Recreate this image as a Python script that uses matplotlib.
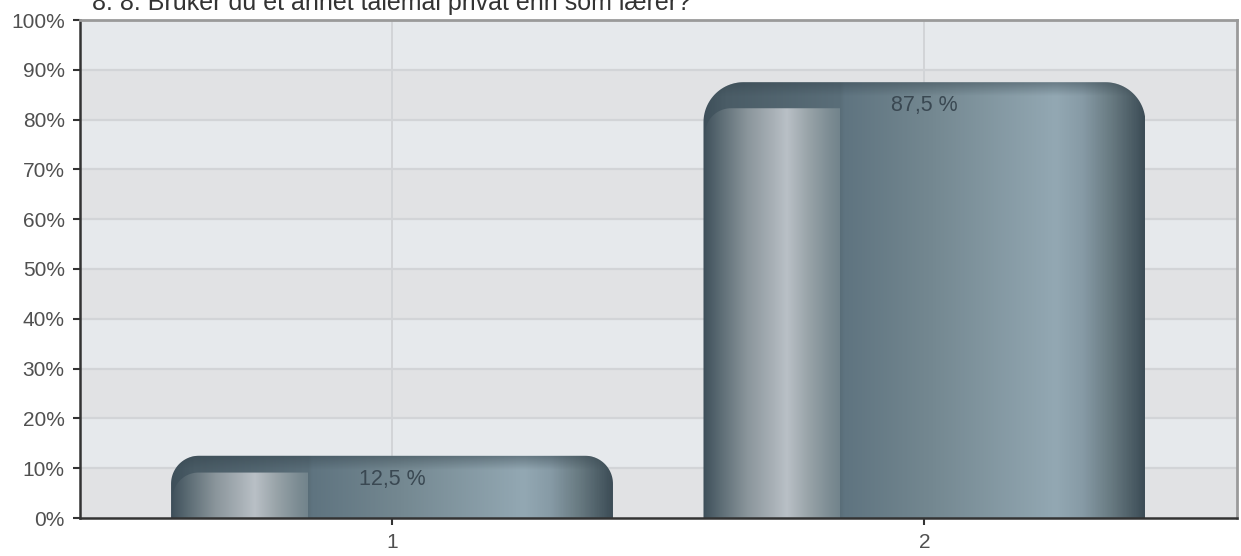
import numpy as np
import matplotlib
matplotlib.use("Agg")
import matplotlib.pyplot as plt
from matplotlib.path import Path
from matplotlib.patches import PathPatch
from matplotlib.colors import LinearSegmentedColormap, to_rgba

plt.rcParams['font.family'] = ['Liberation Sans', 'DejaVu Sans']

# ---- data ----
title = "8. 8. Bruker du et annet talemål privat enn som lærer?"
categories = ["1", "2"]
values = [12.5, 87.5]
y_ticks = [0, 10, 20, 30, 40, 50, 60, 70, 80, 90, 100]
y_tick_labels = [f"{t}%" for t in y_ticks]

# ---- styling ----
band_light = "#e6e9ec"
band_dark = "#e1e2e4"
grid_color = "#d2d4d7"
label_color = "#3a4852"
tick_color = "#505050"

# horizontal metal gradient across the whole bar
base_stops = [
    (0.00, "#3e4f5a"), (0.05, "#4a5c66"), (0.31, "#5a6e79"),
    (0.32, "#5f7480"), (0.52, "#748891"), (0.80, "#93a8b3"),
    (0.86, "#879ba6"), (0.93, "#66787f"), (1.00, "#3d4d57"),
]
# lighter inset panel on the left part of the bar
panel_stops = [
    (0.00, "#3e4f5a"), (0.04, "#5d6d75"), (0.10, "#8a959b"),
    (0.16, "#a9b1b7"), (0.19, "#b9c0c6"), (0.24, "#98a3a8"),
    (0.29, "#7b8b92"), (0.31, "#72848c"),
]
PANEL_END = 0.31

base_cmap = LinearSegmentedColormap.from_list("base", base_stops)
panel_cmap = LinearSegmentedColormap.from_list(
    "panel", [(p / PANEL_END, c) for p, c in panel_stops])

W, H = 1241, 556
fig = plt.figure(figsize=(W / 100, H / 100), dpi=100)
ax = fig.add_axes([80 / W, (H - 518) / H, 1157 / W, 498 / H])

x_pos = np.arange(1, len(categories) + 1)
ax.set_xlim(0.414, 2.587)
ax.set_ylim(0, 100)

# alternating background bands
for i, lo in enumerate(y_ticks[:-1]):
    ax.axhspan(lo, lo + 10, color=band_dark if i % 2 == 0 else band_light,
               zorder=0, lw=0)
for t in y_ticks[1:-1]:
    ax.axhline(t, color=grid_color, lw=1.6, zorder=0.5)
for xp in x_pos:
    ax.axvline(xp, color=grid_color, lw=1.4, zorder=0.5)

# pixel -> data scale factors
p0 = ax.transData.transform((0, 0))
p1 = ax.transData.transform((1, 1))
sx, sy = p1[0] - p0[0], p1[1] - p0[1]


def rounded_top(x0, x1, y0, y1, rx, ry, left=True, right=True, n=30):
    verts = [(x0, y0)]
    if left:
        t = np.linspace(np.pi, np.pi / 2, n)
        verts += list(zip(x0 + rx + rx * np.cos(t), y1 - ry + ry * np.sin(t)))
    else:
        verts.append((x0, y1))
    if right:
        t = np.linspace(np.pi / 2, 0, n)
        verts += list(zip(x1 - rx + rx * np.cos(t), y1 - ry + ry * np.sin(t)))
    else:
        verts.append((x1, y1))
    verts.append((x1, y0))
    verts.append((x0, y0))
    return Path(verts, closed=True)


bar_width = 0.83
grad = np.linspace(0, 1, 600)[None, :]

for xp, v in zip(x_pos, values):
    x0, x1 = xp - bar_width / 2, xp + bar_width / 2
    h_px = v * sy
    r_px = min(40.0, 0.45 * h_px)
    bar_patch = PathPatch(rounded_top(x0, x1, 0, v, r_px / sx, r_px / sy),
                          fc="none", ec="none", zorder=2)
    ax.add_patch(bar_patch)
    im = ax.imshow(grad, cmap=base_cmap, extent=(x0, x1, 0, v),
                   aspect="auto", interpolation="bilinear", zorder=2)
    im.set_clip_path(bar_patch)

    # darker rim along the top edge
    rim_px = 14
    rgba = np.zeros((50, 1, 4))
    rgba[..., :3] = to_rgba("#34434c")[:3]
    rgba[:, 0, 3] = np.linspace(0.45, 0.0, 50)
    rim = ax.imshow(rgba, extent=(x0, x1, v - rim_px / sy, v),
                    aspect="auto", interpolation="bilinear", zorder=2.1,
                    origin="upper")
    rim.set_clip_path(bar_patch)

    # inset highlight panel
    off_px = min(26.0, 0.27 * h_px)
    pr_px = min(26.0, 0.6 * (h_px - off_px))
    px1 = x0 + PANEL_END * bar_width
    ptop = v - off_px / sy
    panel_patch = PathPatch(
        rounded_top(x0 + 1.5 / sx, px1, 0, ptop, pr_px / sx, pr_px / sy,
                    right=False),
        fc="none", ec="none", zorder=2.2)
    ax.add_patch(panel_patch)
    pim = ax.imshow(grad, cmap=panel_cmap, extent=(x0, px1, 0, ptop),
                    aspect="auto", interpolation="bilinear", zorder=2.2)
    pim.set_clip_path(panel_patch)

    label = f"{v:.1f} %".replace(".", ",")
    ax.annotate(label, xy=(xp, v), xytext=(0, -23.5 * 72 / 100),
                textcoords="offset points", ha="center", va="center",
                fontsize=15.5, color=label_color, zorder=3)

ax.set_xlim(0.414, 2.587)
ax.set_ylim(0, 100)

ax.set_xticks(x_pos)
ax.set_xticklabels(categories)
ax.set_yticks(y_ticks)
ax.set_yticklabels(y_tick_labels)
ax.tick_params(axis="both", length=5, width=1.5, color="#333333",
               labelsize=15, labelcolor=tick_color)
ax.tick_params(axis="y", pad=6)
ax.tick_params(axis="x", pad=6)

for side in ("left", "bottom"):
    ax.spines[side].set_color("#333333")
    ax.spines[side].set_linewidth(1.8)
for side in ("top", "right"):
    ax.spines[side].set_color("#9a9a9a")
    ax.spines[side].set_linewidth(2.0)

fig.text(92 / W, (H - 10) / H, title, ha="left", va="baseline",
         fontsize=18, color="#333333")

fig.savefig("out.png", dpi=100)
